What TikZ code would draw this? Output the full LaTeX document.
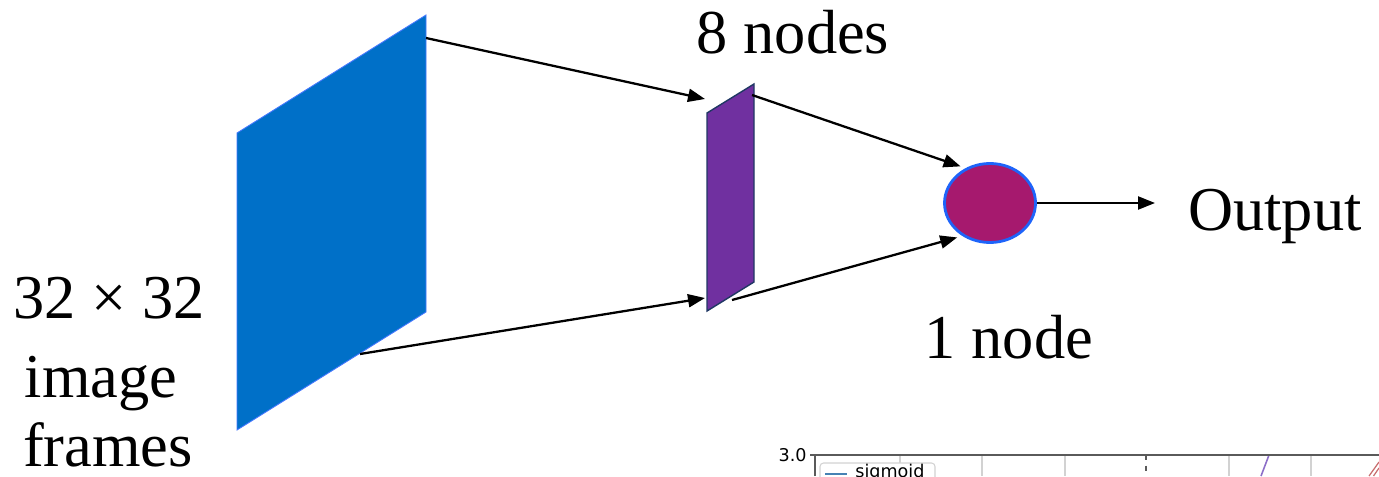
\documentclass[tikz,border=0pt]{standalone}
\usepackage{fontspec}
\setmainfont{Liberation Serif}
\newfontfamily\plotfont{DejaVu Sans}
\usepackage{tikz}
\usetikzlibrary{arrows.meta,shapes.geometric}
\definecolor{frameblue}{RGB}{0, 112, 200}
\definecolor{frameedge}{RGB}{70, 120, 255}
\definecolor{hiddenpurple}{RGB}{112, 48, 160}
\definecolor{hiddenedge}{RGB}{32, 56, 100}
\definecolor{outmagenta}{RGB}{166, 25, 110}
\definecolor{outedge}{RGB}{30, 100, 250}
\definecolor{gridgray}{RGB}{210, 210, 210}
\definecolor{axisgray}{RGB}{90, 90, 90}
\definecolor{sigblue}{RGB}{70, 130, 180}
\definecolor{curvepurple}{RGB}{140, 110, 200}
\definecolor{curvered}{RGB}{200, 110, 110}

\begin{document}
\begin{tikzpicture}[
		arr/.style={-{Triangle[length=0.34cm,width=0.26cm]}, line width=1.3pt, black},
		lbl/.style={font=\fontsize{35.5}{42.7}\selectfont, inner sep=0pt},
		gridln/.style={gridgray, line width=0.6pt},
		plotlbl/.style={font=\plotfont\fontsize{10}{12}\selectfont, inner sep=0pt}
	]
			\useasboundingbox (0,0) rectangle (27.58,9.52);
			\clip (0,0) rectangle (27.58,9.52);
			
			% ENTREE : IMAGE 32x32
			\coordinate (inTL) at (4.74,6.86);
			\coordinate (inTR) at (8.52,9.22);
			\coordinate (inBR) at (8.52,3.28);
			\coordinate (inBL) at (4.74,0.92);
			\draw[frameedge, fill=frameblue, line width=0.5pt] (inTL) -- (inTR) -- (inBR) -- (inBL) -- cycle;
			\node[lbl, anchor=base] (nin1) at (2.18,3.16) {32 × 32};
			\node[lbl, anchor=base] (nin2) at (2.02,1.58) {image};
			\node[lbl, anchor=base] (nin3) at (2.16,0.20) {frames};
			
			% COUCHE CACHEE : 8 NODES
			\coordinate (hidTL) at (14.14,7.26);
			\coordinate (hidTR) at (15.08,7.84);
			\coordinate (hidBR) at (15.08,3.88);
			\coordinate (hidBL) at (14.14,3.30);
			\draw[hiddenedge, fill=hiddenpurple, line width=0.8pt] (hidTL) -- (hidTR) -- (hidBR) -- (hidBL) -- cycle;
			\node[lbl, anchor=base] (nhid) at (15.86,8.44) {8 nodes};
			
			% SORTIE : 1 NODE
			\node[ellipse, draw=outedge, fill=outmagenta, line width=1.6pt, minimum width=1.82cm, minimum height=1.58cm, inner sep=0pt] (out) at (19.80,5.46) {};
			\node[lbl, anchor=base] (nout) at (20.18,2.36) {1 node};
			\node[lbl, anchor=base west] (ntxt) at (23.76,4.92) {Output};
			
			% FLECHES
			\coordinate (inA) at (8.52,8.76);
			\coordinate (inB) at (7.20,2.44);
			\coordinate (hidA) at (14.10,7.54);
			\coordinate (hidB) at (14.10,3.56);
			\coordinate (hidC) at (15.04,7.62);
			\coordinate (hidD) at (14.64,3.52);
			\coordinate (outend) at (23.10,5.46);
			\draw[arr] (inA) -- (hidA);
			\draw[arr] (inB) -- (hidB);
			\draw[arr, shorten >=3pt] (hidC) -- (out.125);
			\draw[arr, shorten >=3pt] (hidD) -- (out.230);
			\draw[arr] (out.east) -- (outend);
			
			% GRAPHE (FRAGMENT)
			\foreach \gx in {18.00,19.64,21.30,24.58,26.22}
				\draw[gridln] (\gx,0.42) -- (\gx,0);
			\draw[axisgray, dashed, line width=0.6pt] (22.92,0.42) -- (22.92,0);
			\draw[curvepurple, line width=0.9pt] (25.38,0.42) -- (25.22,0);
			\draw[curvered, line width=0.7pt] (27.58,0.28) -- (27.38,0);
			\draw[curvered, line width=0.7pt] (27.58,0.16) -- (27.47,0);
			\draw[axisgray, line width=0.7pt] (16.30,0) -- (16.30,0.42) -- (27.58,0.42);
			\draw[axisgray, line width=0.7pt] (16.20,0.42) -- (16.30,0.42);
			\node[plotlbl, anchor=east] (ytick) at (16.14,0.41) {3.0};
			\draw[gridgray, fill=white, rounded corners=2pt, line width=0.6pt] (16.40,-0.3) rectangle (18.70,0.26);
			\draw[sigblue, line width=1.5pt] (16.50,0.04) -- (16.94,0.04);
			\node[plotlbl, anchor=base west] (nsig) at (17.10,-0.02) {sigmoid};
			
		\end{tikzpicture}
\end{document}
